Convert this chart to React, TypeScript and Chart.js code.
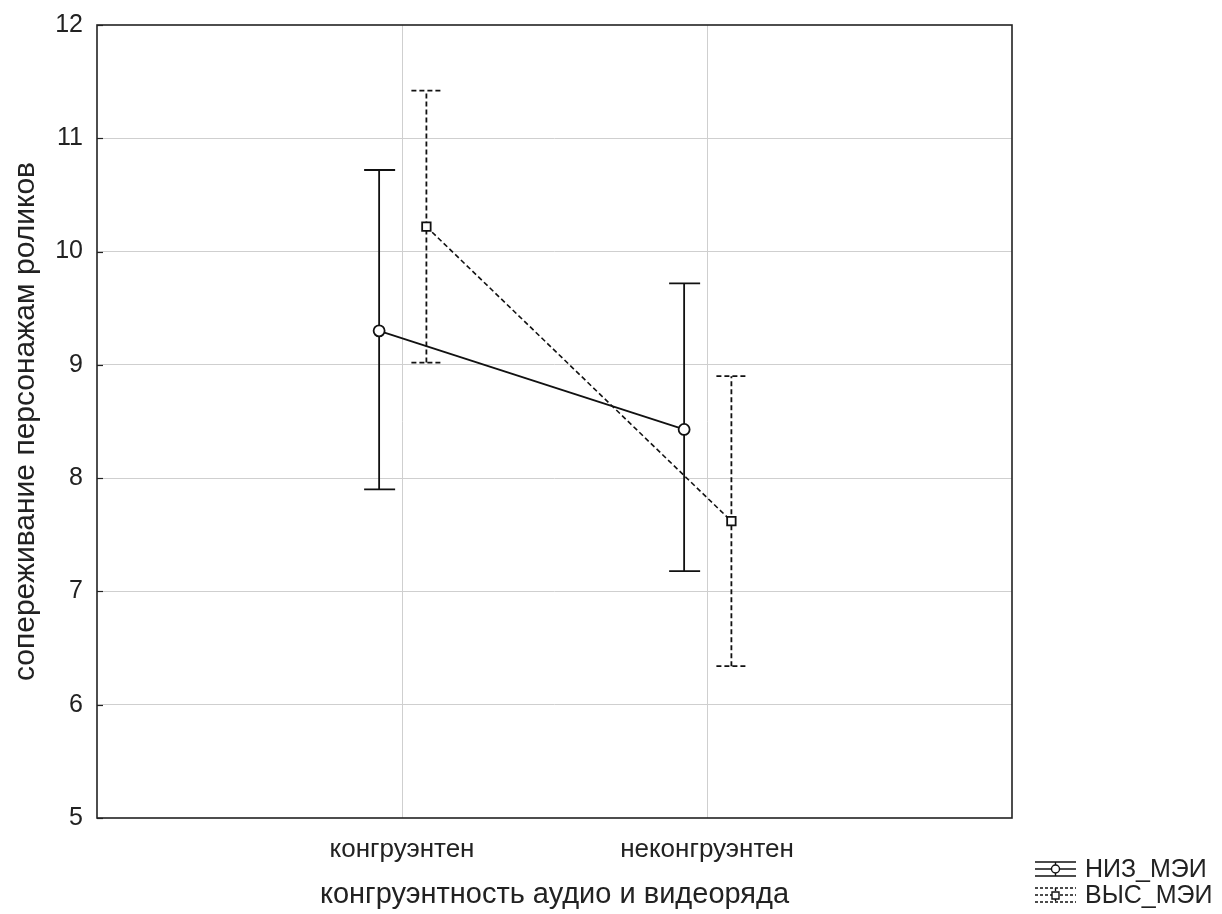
import React, { useEffect, useRef } from "react";
import { Chart, registerables } from "chart.js";

Chart.register(...registerables);

const categories = ["конгруэнтен", "неконгруэнтен"];
const seriesNames = ["НИЗ_МЭИ", "ВЫС_МЭИ"];
const lowMeans = [9.3, 8.43];
const lowLower = [7.9, 7.18];
const lowUpper = [10.72, 9.72];
const highMeans = [10.22, 7.62];
const highLower = [9.02, 6.34];
const highUpper = [11.42, 8.9];
const yTicks = [5, 6, 7, 8, 9, 10, 11, 12];

const FONT = "'Liberation Sans', Arial, sans-serif";
const OFFSETS = [-0.075, 0.08];
const DASH = [5, 3];

function buildPoints(means: number[], lower: number[], upper: number[], off: number) {
  return means.map((m, i) => ({ x: i + 1 + off, y: m, lo: lower[i], hi: upper[i] }));
}

const errorBars = {
  id: "errorBars",
  beforeDatasetsDraw(chart: any) {
    const ctx = chart.ctx;
    const yScale = chart.scales.y;
    chart.data.datasets.forEach((ds: any, di: number) => {
      const meta = chart.getDatasetMeta(di);
      ctx.save();
      ctx.strokeStyle = "#111";
      ctx.lineWidth = 1.8;
      ctx.setLineDash(ds.borderDash || []);
      meta.data.forEach((el: any, i: number) => {
        const p = ds.data[i];
        const x = el.x;
        const y1 = yScale.getPixelForValue(p.lo);
        const y2 = yScale.getPixelForValue(p.hi);
        ctx.beginPath();
        ctx.moveTo(x, y1);
        ctx.lineTo(x, y2);
        ctx.moveTo(x - 15, y1);
        ctx.lineTo(x + 16, y1);
        ctx.moveTo(x - 15, y2);
        ctx.lineTo(x + 16, y2);
        ctx.stroke();
      });
      ctx.restore();
    });
  },
};

const frame = {
  id: "frame",
  afterDraw(chart: any) {
    const { ctx, chartArea: a } = chart;
    const yScale = chart.scales.y;
    ctx.save();
    ctx.strokeStyle = "#222";
    ctx.lineWidth = 1.6;
    ctx.strokeRect(a.left, a.top, a.right - a.left, a.bottom - a.top);
    ctx.lineWidth = 1.2;
    yScale.ticks.forEach((t: any) => {
      const y = Math.round(yScale.getPixelForValue(t.value)) + 0.5;
      ctx.beginPath();
      ctx.moveTo(a.left, y);
      ctx.lineTo(a.left + 6, y);
      ctx.stroke();
    });
    // legend
    const lx = 1035;
    const rows = [869, 895];
    chart.data.datasets.forEach((ds: any, di: number) => {
      const cy = rows[di];
      ctx.strokeStyle = "#111";
      ctx.lineWidth = 1.4;
      ctx.setLineDash(ds.borderDash ? [3, 2] : []);
      ctx.beginPath();
      for (const dy of [-7, 0, 7]) {
        ctx.moveTo(lx, cy + dy);
        ctx.lineTo(lx + 41, cy + dy);
      }
      ctx.moveTo(lx + 20.5, cy - 7);
      ctx.lineTo(lx + 20.5, cy + 7);
      ctx.stroke();
      ctx.setLineDash([]);
      ctx.fillStyle = "#fff";
      ctx.beginPath();
      if (di === 0) {
        ctx.arc(lx + 20.5, cy, 4, 0, Math.PI * 2);
      } else {
        ctx.rect(lx + 17, cy - 3, 7, 7);
      }
      ctx.fill();
      ctx.stroke();
      ctx.fillStyle = "#222";
      ctx.font = `25px ${FONT}`;
      ctx.textBaseline = "middle";
      ctx.textAlign = "left";
      ctx.fillText(ds.label, lx + 50, cy + 1);
    });
    ctx.restore();
  },
};

export default function App() {
  const ref = useRef<HTMLCanvasElement | null>(null);
  useEffect(() => {
    if (!ref.current) return;
    const chart = new Chart(ref.current, {
      type: "line",
      data: {
        datasets: [
          {
            label: seriesNames[0],
            data: buildPoints(lowMeans, lowLower, lowUpper, OFFSETS[0]),
            borderColor: "#111",
            borderWidth: 1.8,
            pointStyle: "circle",
            pointRadius: 5.5,
            pointBorderWidth: 1.8,
            pointBackgroundColor: "#fff",
            pointBorderColor: "#111",
            fill: false,
          },
          {
            label: seriesNames[1],
            data: buildPoints(highMeans, highLower, highUpper, OFFSETS[1]),
            borderColor: "#111",
            borderWidth: 1.6,
            borderDash: DASH,
            pointStyle: "rect",
            pointRadius: 6,
            pointBorderWidth: 1.8,
            pointBackgroundColor: "#fff",
            pointBorderColor: "#111",
            fill: false,
          },
        ],
      } as any,
      options: {
        animation: false,
        responsive: false,
        parsing: false as any,
        layout: { padding: { top: 25, right: 210, left: 0, bottom: 0 } },
        plugins: { legend: { display: false }, tooltip: { enabled: false } },
        scales: {
          x: {
            type: "linear",
            min: 0,
            max: categories.length + 1,
            afterBuildTicks(scale: any) {
              scale.ticks = [0, ...categories.map((_, i) => i + 1), categories.length + 1].map((v) => ({ value: v }));
            },
            afterFit(scale: any) {
              scale.height = 96;
              scale.paddingLeft = 0;
              scale.paddingRight = 0;
            },
            ticks: {
              callback: (v: any) => categories[Number(v) - 1] ?? "",
              font: { family: FONT, size: 26 },
              color: "#222",
              padding: 16,
              maxRotation: 0,
              autoSkip: false,
            },
            grid: {
              drawTicks: false,
              color: (c: any) => (c.tick && (c.tick.value === 0 || c.tick.value === categories.length + 1) ? "rgba(0,0,0,0)" : "#cfcfcf"),
              lineWidth: 1,
            },
            border: { display: false },
            title: {
              display: true,
              text: "конгруэнтность аудио и видеоряда",
              font: { family: FONT, size: 29 },
              color: "#222",
              padding: { top: 0, bottom: 2 },
            },
          },
          y: {
            type: "linear",
            min: yTicks[0],
            max: yTicks[yTicks.length - 1],
            afterBuildTicks(scale: any) {
              scale.ticks = yTicks.map((v) => ({ value: v }));
            },
            afterFit(scale: any) {
              scale.width = 97;
              scale.paddingTop = 0;
              scale.paddingBottom = 0;
            },
            ticks: {
              font: { family: FONT, size: 25 },
              color: "#222",
              padding: 14,
            },
            grid: {
              drawTicks: false,
              color: (c: any) => (c.tick && (c.tick.value === 5 || c.tick.value === 12) ? "rgba(0,0,0,0)" : "#cfcfcf"),
              lineWidth: 1,
            },
            border: { display: false },
            title: {
              display: true,
              text: "сопереживание персонажам роликов",
              font: { family: FONT, size: 30 },
              color: "#222",
              padding: { top: 8, bottom: 0 },
            },
          },
        },
      } as any,
      plugins: [errorBars, frame],
    });
    return () => chart.destroy();
  }, []);
  return (
    <div style={{ position: "fixed", left: 0, top: 0, width: 1222, height: 914, background: "#fff" }}>
      <canvas ref={ref} width={1222} height={914} style={{ display: "block" }} />
    </div>
  );
}
